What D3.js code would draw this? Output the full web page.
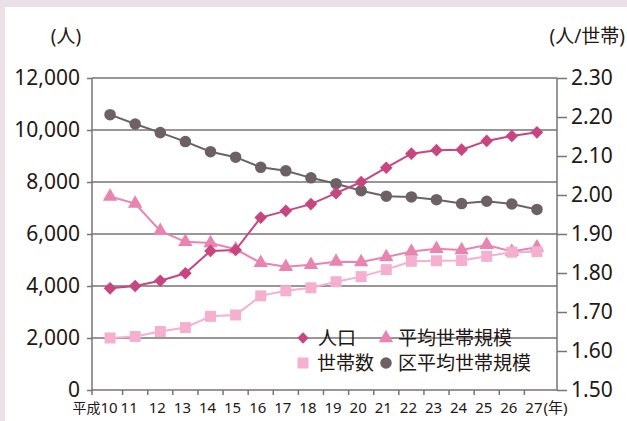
<!DOCTYPE html>
<html>
<head>
<meta charset="utf-8">
<script src="https://cdn.jsdelivr.net/npm/d3@7"></script>
<style>
  html, body { margin: 0; padding: 0; background: #ece0e7; }
  svg { display: block; font-family: "Noto Sans", "Noto Sans CJK JP", sans-serif; }
</style>
</head>
<body>
<div id="chart"></div>
<script>
// Years (平成), population, households, average household size, ward average
const years = ['10', '11', '12', '13', '14', '15', '16', '17', '18', '19', '20', '21', '22', '23', '24', '25', '26', '27'];
const population = [3910, 4000, 4200, 4490, 5350, 5385, 6630, 6890, 7150, 7570, 8000, 8550, 9090, 9225, 9245, 9580, 9770, 9910];
const households = [2000, 2060, 2250, 2400, 2835, 2885, 3620, 3815, 3930, 4165, 4360, 4630, 4950, 4970, 4980, 5140, 5300, 5320];
const avgSize = [1.996, 1.978, 1.908, 1.880, 1.877, 1.861, 1.826, 1.816, 1.821, 1.829, 1.828, 1.841, 1.855, 1.862, 1.859, 1.872, 1.855, 1.866];
const wardAvgSize = [2.206, 2.182, 2.160, 2.137, 2.111, 2.097, 2.071, 2.062, 2.044, 2.029, 2.011, 1.997, 1.995, 1.988, 1.978, 1.984, 1.977, 1.963];
const leftTicks = [0, 2000, 4000, 6000, 8000, 10000, 12000];
const rightTicks = [1.5, 1.6, 1.7, 1.8, 1.9, 2.0, 2.1, 2.2, 2.3];

const W = 627, H = 421;
const plot = { left: 92, right: 557, top: 78, bottom: 390 };
const textColor = '#231815';
const gridColor = '#7a7275';

const colors = {
    population: '#c9457f',
    avgSize: '#e984b0',
    households: '#f5b0d0',
    ward: '#6c6266'
};

const svg = d3.select('#chart').append('svg')
    .attr('width', W)
    .attr('height', H);

// Panel background
svg.append('rect').attr('width', W).attr('height', H).attr('fill', '#ece0e7');
svg.append('rect').attr('x', 5).attr('y', 7).attr('width', W - 5).attr('height', H - 7).attr('fill', '#ffffff');

const x = d3.scaleBand().domain(years).range([97.5, 549.5]).padding(0);
const cx = d => x(d) + x.bandwidth() / 2;
const yLeft = d3.scaleLinear().domain([0, 12000]).range([plot.bottom, plot.top]);
const yRight = d3.scaleLinear().domain([1.5, 2.3]).range([plot.bottom, plot.top]);

// Gridlines (left axis steps)
svg.append('g')
    .selectAll('line')
    .data(leftTicks.filter(d => d > 0))
    .join('line')
    .attr('x1', plot.left).attr('x2', plot.right)
    .attr('y1', d => yLeft(d)).attr('y2', d => yLeft(d))
    .attr('stroke', gridColor)
    .attr('stroke-width', 1.5);

// Left axis
const gLeft = svg.append('g')
    .attr('transform', `translate(${plot.left},0)`)
    .call(d3.axisLeft(yLeft).tickValues(leftTicks).tickSize(5).tickPadding(7).tickFormat(d3.format(',')));
gLeft.select('.domain').remove();
gLeft.selectAll('line').attr('stroke', gridColor).attr('stroke-width', 1.5);
gLeft.selectAll('text').attr('fill', textColor).attr('font-size', '21px').attr('font-family', '"Noto Sans", sans-serif');
svg.append('line')
    .attr('x1', plot.left).attr('x2', plot.left)
    .attr('y1', plot.top).attr('y2', plot.bottom + 5)
    .attr('stroke', gridColor).attr('stroke-width', 1.5);

// Right axis
const gRight = svg.append('g')
    .attr('transform', `translate(${plot.right},0)`)
    .call(d3.axisRight(yRight).tickValues(rightTicks).tickSize(10).tickPadding(4).tickFormat(d3.format('.2f')));
gRight.select('.domain').remove();
gRight.selectAll('line').attr('stroke', gridColor).attr('stroke-width', 1.5);
gRight.selectAll('text').attr('fill', textColor).attr('font-size', '21px').attr('font-family', '"Noto Sans", sans-serif');
svg.append('line')
    .attr('x1', plot.right).attr('x2', plot.right)
    .attr('y1', plot.top).attr('y2', plot.bottom)
    .attr('stroke', gridColor).attr('stroke-width', 1.5);

// X axis: line + ticks on category boundaries
svg.append('line')
    .attr('x1', plot.left).attr('x2', plot.right)
    .attr('y1', plot.bottom).attr('y2', plot.bottom)
    .attr('stroke', gridColor).attr('stroke-width', 1.5);
svg.append('g')
    .selectAll('line')
    .data(years.slice(1))
    .join('line')
    .attr('x1', d => x(d)).attr('x2', d => x(d))
    .attr('y1', plot.bottom).attr('y2', plot.bottom + 5)
    .attr('stroke', gridColor).attr('stroke-width', 1.5);

// X labels (slightly left of the marks, as in the original)
const labelNudge = { '10': -1, '11': -6 };
svg.append('g')
    .selectAll('text')
    .data(years)
    .join('text')
    .attr('x', d => cx(d) + (labelNudge[d] !== undefined ? labelNudge[d] : -3) + (d === years[0] ? 8.6 : 0))
    .attr('y', 413)
    .attr('text-anchor', d => d === years[0] ? 'end' : 'middle')
    .attr('font-size', '15px')
    .attr('fill', textColor)
    .each(function (d) {
        const t = d3.select(this);
        if (d === years[0]) {
            // era prefix stays in the same text as the first year
            t.append('tspan').attr('font-size', '14px').text('平成');
            t.append('tspan').text(d);
        } else {
            t.text(d);
        }
    });
svg.append('text')
    .attr('x', cx(years[years.length - 1]) + 6.5)
    .attr('y', 413)
    .attr('font-size', '15px')
    .attr('fill', textColor)
    .text('(年)');

// Unit labels
svg.append('text')
    .attr('x', 66).attr('y', 43)
    .attr('text-anchor', 'middle')
    .attr('font-size', '19px')
    .attr('fill', textColor)
    .text('(人)');
svg.append('text')
    .attr('x', 625).attr('y', 43)
    .attr('text-anchor', 'end')
    .attr('font-size', '19px')
    .attr('fill', textColor)
    .text('(人/世帯)');

// Series
const series = [
    { name: '区平均世帯規模', values: wardAvgSize, scale: yRight, color: colors.ward, symbol: d3.symbolCircle, size: 105 },
    { name: '平均世帯規模', values: avgSize, scale: yRight, color: colors.avgSize, symbol: d3.symbolTriangle, size: 90 },
    { name: '世帯数', values: households, scale: yLeft, color: colors.households, symbol: d3.symbolSquare, size: 121 },
    { name: '人口', values: population, scale: yLeft, color: colors.population, symbol: d3.symbolDiamond, size: 80 }
];

series.forEach(s => {
    const pts = years.map((yr, i) => ({ x: cx(yr), y: s.scale(s.values[i]) }));
    svg.append('path')
        .datum(pts)
        .attr('fill', 'none')
        .attr('stroke', s.color)
        .attr('stroke-width', 2)
        .attr('d', d3.line().x(d => d.x).y(d => d.y));
    svg.append('g')
        .selectAll('path')
        .data(pts)
        .join('path')
        .attr('transform', d => `translate(${d.x},${d.y})${s.symbol === d3.symbolDiamond ? ' rotate(45)' : ''}`)
        .attr('d', d3.symbol().type(s.symbol === d3.symbolDiamond ? d3.symbolSquare : s.symbol).size(s.size))
        .attr('fill', s.color);
});

// Legend
const legendItems = [
    { name: '人口', color: colors.population, symbol: d3.symbolSquare, size: 64, rot: 45, mx: 303, my: 338, tx: 318 },
    { name: '平均世帯規模', color: colors.avgSize, symbol: d3.symbolTriangle, size: 90, rot: 0, mx: 386, my: 338, tx: 398 },
    { name: '世帯数', color: colors.households, symbol: d3.symbolSquare, size: 121, rot: 0, mx: 303, my: 363, tx: 317 },
    { name: '区平均世帯規模', color: colors.ward, symbol: d3.symbolCircle, size: 105, rot: 0, mx: 386, my: 363, tx: 398 }
];
const legend = svg.append('g');
legendItems.forEach(it => {
    legend.append('path')
        .attr('transform', `translate(${it.mx},${it.my}) rotate(${it.rot})`)
        .attr('d', d3.symbol().type(it.symbol).size(it.size))
        .attr('fill', it.color);
    legend.append('text')
        .attr('x', it.tx).attr('y', it.my + 7)
        .attr('font-size', '19px')
        .attr('fill', textColor)
        .text(it.name);
});
</script>
</body>
</html>
